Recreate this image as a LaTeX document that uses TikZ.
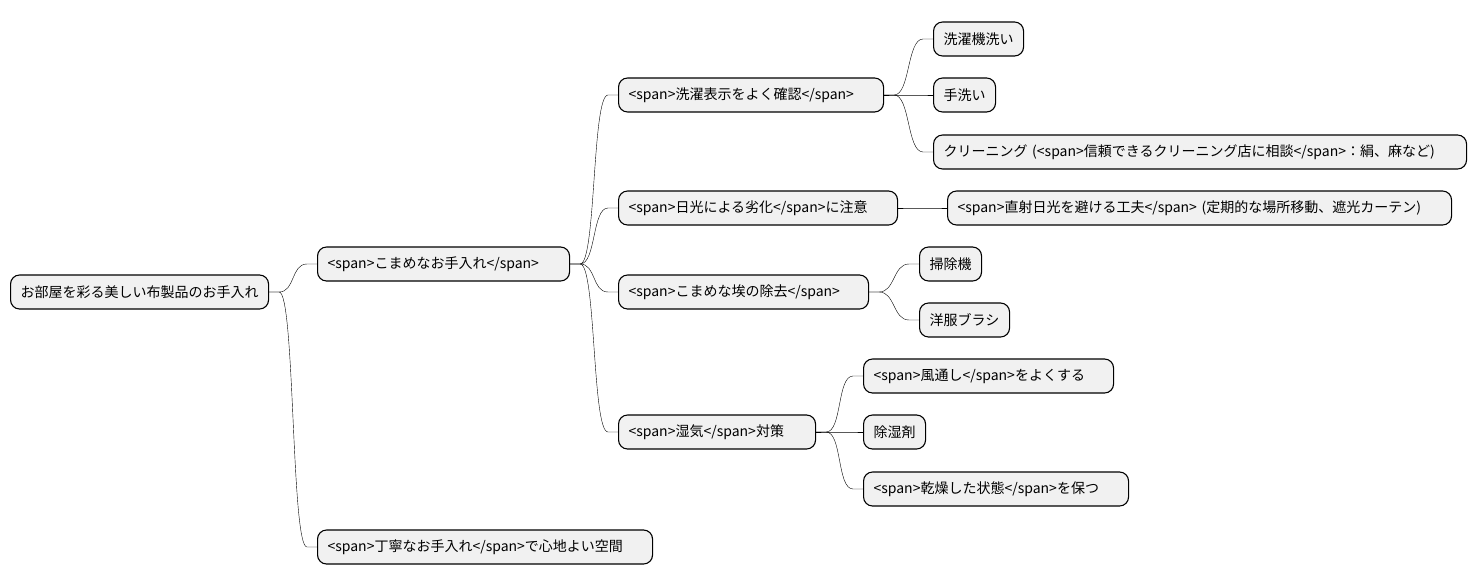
\documentclass[tikz,border=0pt]{standalone}
\usepackage{fontspec}
\setmainfont{Noto Sans CJK JP}
\usetikzlibrary{calc}
\definecolor{boxfill}{HTML}{F1F1F1}
\tikzset{
  topic/.style={draw, line width=1.1pt, fill=boxfill, rounded corners=9pt, anchor=west,
                minimum height=34pt, inner xsep=10pt, align=left,
                text width=#1-20pt,
                font={\fontsize{14}{16}\selectfont}},
  topic/.default=100pt,
  link/.style={draw, thin}
}
\newcommand{\branch}[2]{%
  \draw[link] (#1.east) -- ++(10pt,0)
    .. controls +(16pt,0) and ($(#2.west)+(-26pt,0)$) .. ($(#2.west)+(-10pt,0)$)
    -- (#2.west);}
\begin{document}
\begin{tikzpicture}[x=1pt,y=-1pt]
  \useasboundingbox (0,0) rectangle (1477,583);
  % root and first level
  \node[topic=258pt] (root) at (10,292) {お部屋を彩る美しい布製品のお手入れ};
  \node[topic=252pt] (daily) at (317,264) {<span>こまめなお手入れ</span>};
  \node[topic=335pt] (care) at (317,547) {<span>丁寧なお手入れ</span>で心地よい空間};
  % second level
  \node[topic=265pt] (label) at (618,95) {<span>洗濯表示をよく確認</span>};
  \node[topic=279pt] (sun) at (618,208) {<span>日光による劣化</span>に注意};
  \node[topic=250pt] (dust) at (618,292) {<span>こまめな埃の除去</span>};
  \node[topic=197pt] (damp) at (618,432) {<span>湿気</span>対策};
  % leaves
  \node[topic=90pt] (machine) at (933,39) {洗濯機洗い};
  \node[topic=62pt] (hand) at (933,95) {手洗い};
  \node[topic=533pt] (clean) at (933,152) {クリーニング (<span>信頼できるクリーニング店に相談</span>：絹、麻など)};
  \node[topic=504pt] (shade) at (947,208) {<span>直射日光を避ける工夫</span> (定期的な場所移動、遮光カーテン)};
  \node[topic=62pt] (vacuum) at (919,264) {掃除機};
  \node[topic=90pt] (brush) at (919,320) {洋服ブラシ};
  \node[topic=250pt] (air) at (863,376) {<span>風通し</span>をよくする};
  \node[topic=62pt] (dry) at (863,432) {除湿剤};
  \node[topic=265pt] (keep) at (863,489) {<span>乾燥した状態</span>を保つ};
  % connectors
  \branch{root}{daily}
  \branch{root}{care}
  \foreach \c in {label,sun,dust,damp} {\branch{daily}{\c}}
  \foreach \c in {machine,hand,clean} {\branch{label}{\c}}
  \branch{sun}{shade}
  \foreach \c in {vacuum,brush} {\branch{dust}{\c}}
  \foreach \c in {air,dry,keep} {\branch{damp}{\c}}
\end{tikzpicture}
\end{document}
